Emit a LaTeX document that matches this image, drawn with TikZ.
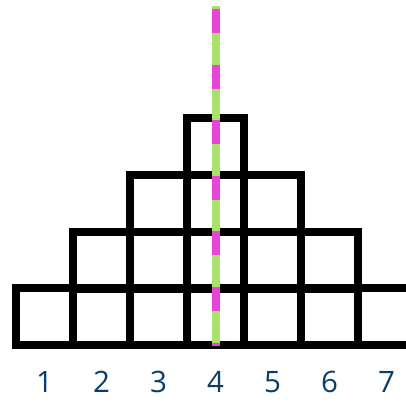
\documentclass[tikz,border=0pt]{standalone}
\usepackage{fontspec}
\setmainfont{Open Sans}
\definecolor{gridink}{HTML}{000000}
\definecolor{numblue}{HTML}{0B3D6B}
\definecolor{axisgreen}{HTML}{A8E26C}
\definecolor{axispink}{HTML}{E845D6}
\tikzset{
  blocks/.style={draw=gridink, line width=8pt},
  num/.style={anchor=base, text=numblue, font=\fontsize{29.5}{30}\selectfont, inner sep=0pt},
}
\newcommand{\cellrow}[3]{% row of cells from x=#1 to x=#2, bottom edge at y=#3
  \draw[blocks] (#1,#3) rectangle (#2,#3-57);
}
\begin{document}
\begin{tikzpicture}[x=1pt,y=-1pt]
  \useasboundingbox (0,0) rectangle (406,401);
  \clip (0,0) rectangle (406,401);
  % stacked rows of cells
  \cellrow{16}{415}{345}
  \draw[blocks] (73,289) -- (73,345) (130,289) -- (130,345) (187,289) -- (187,345)
    (244,289) -- (244,345) (301,289) -- (301,345) (358,289) -- (358,345);
  \cellrow{73}{358}{289}
  \draw[blocks] (130,232) -- (130,289) (187,232) -- (187,289)
    (244,232) -- (244,289) (301,232) -- (301,289);
  \cellrow{130}{301}{232}
  \draw[blocks] (187,175) -- (187,232) (244,175) -- (244,232);
  \cellrow{187}{244}{175}
  % line of symmetry
  \coordinate (axtop) at (215.5,6);
  \coordinate (axbot) at (215.5,346);
  \draw[axisgreen, line width=8pt] (axtop) -- (axbot);
  \draw[axispink, line width=8pt, dash pattern=on 24pt off 31.6pt, dash phase=52.6pt] (axtop) -- (axbot);
  % column numbers
  \node[num] (n1) at (44.5,392) {1};
  \node[num] (n2) at (101.5,392) {2};
  \node[num] (n3) at (158.5,392) {3};
  \node[num] (n4) at (215.5,392) {4};
  \node[num] (n5) at (272.5,392) {5};
  \node[num] (n6) at (329.5,392) {6};
  \node[num] (n7) at (386.5,392) {7};
\end{tikzpicture}
\end{document}
